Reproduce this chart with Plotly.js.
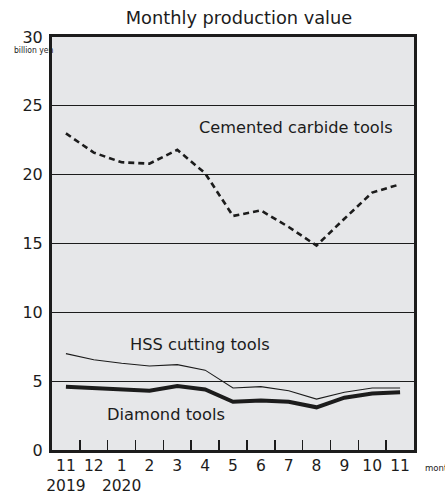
<!DOCTYPE html>
<html>
<head>
<meta charset="utf-8">
<script src="https://cdn.plot.ly/plotly-3.0.1.min.js"></script>
<style>html,body{margin:0;padding:0;background:#fff;}#chart{width:445px;height:495px;}</style>
</head>
<body>
<div id="chart"></div>
<script>
// Data (billion yen), Nov 2019 - Nov 2020
const months = ["11<br>2019", "12", "1<br>2020", "2", "3", "4", "5", "6", "7", "8", "9", "10", "11"];
const cementedCarbide = [23.0, 21.6, 20.9, 20.8, 21.8, 20.1, 17.0, 17.4, 16.2, 14.85, 16.8, 18.7, 19.3];
const hssCutting = [7.0, 6.55, 6.3, 6.1, 6.2, 5.8, 4.5, 4.6, 4.3, 3.7, 4.2, 4.5, 4.5];
const diamondTools = [4.6, 4.5, 4.4, 4.3, 4.65, 4.4, 3.5, 3.6, 3.5, 3.1, 3.8, 4.1, 4.2];
const seriesLabels = ["Cemented carbide tools", "HSS cutting tools", "Diamond tools"];
const yTicks = [0, 5, 10, 15, 20, 25, 30];

const idx = months.map((m, i) => i);
const ink = "#1c1c1c";
const font = "DejaVu Sans, Liberation Sans, Arial, sans-serif";
const narrow = "Liberation Sans Narrow, DejaVu Sans Condensed, sans-serif";

const traces = [
  {x: idx, y: cementedCarbide, mode: "lines", line: {color: ink, width: 2.6, dash: "6px,4px"}, hoverinfo: "skip"},
  {x: idx, y: hssCutting, mode: "lines", line: {color: ink, width: 1.1}, hoverinfo: "skip"},
  {x: idx, y: diamondTools, mode: "lines", line: {color: ink, width: 4}, hoverinfo: "skip"},
  // dummy trace for month labels on second axis
  {x: idx, y: idx.map(() => null), xaxis: "x2", mode: "lines", hoverinfo: "skip", showlegend: false}
];

const pw = 445 - 52 - 31, ph = 495 - 37 - 45;

const layout = {
  width: 445, height: 495,
  margin: {l: 52, r: 31, t: 37, b: 45},
  paper_bgcolor: "#ffffff",
  plot_bgcolor: "#e6e7e9",
  showlegend: false,
  title: {text: "Monthly production value", font: {family: font, size: 17.8, color: ink}, x: 239 / 445, xanchor: "center", y: 1 - 18 / 495, yanchor: "middle"},
  xaxis: {
    range: [-0.5, 12.5], showgrid: false, zeroline: false,
    tickmode: "array", tickvals: idx.slice(0, 12).map(i => i + 0.5), ticktext: idx.slice(0, 12).map(() => ""),
    ticks: "inside", ticklen: 10, tickwidth: 1.5, tickcolor: ink,
    showline: true, linecolor: ink, linewidth: 3, mirror: true, fixedrange: true
  },
  xaxis2: {
    overlaying: "x", range: [-0.5, 12.5], showgrid: false, zeroline: false, showline: false,
    tickmode: "array", tickvals: idx, ticktext: months, ticks: "", tickangle: 0,
    tickfont: {family: font, size: 15.5, color: ink}, side: "bottom", fixedrange: true, ticklabelstandoff: 4
  },
  yaxis: {
    range: [0, 30], tickmode: "array", tickvals: yTicks, ticktext: yTicks.map(String),
    showgrid: true, gridcolor: ink, gridwidth: 1.3, zeroline: false,
    showline: true, linecolor: ink, linewidth: 3, mirror: true, ticks: "",
    tickfont: {family: font, size: 16, color: ink}, ticklabelstandoff: 3, fixedrange: true
  },
  annotations: [
    {text: seriesLabels[0], x: 8.25, y: 23.4, xref: "x", yref: "y", showarrow: false, font: {family: font, size: 16.2, color: ink}},
    {text: seriesLabels[1], x: 4.8, y: 7.65, xref: "x", yref: "y", showarrow: false, font: {family: font, size: 16.3, color: ink}},
    {text: seriesLabels[2], x: 3.6, y: 2.6, xref: "x", yref: "y", showarrow: false, font: {family: font, size: 16.3, color: ink}},
    {text: "billion yen", x: (12 - 52) / pw, y: (495 - 45 - 50) / ph, xref: "paper", yref: "paper", xanchor: "left", yanchor: "middle", showarrow: false, font: {family: narrow, size: 8.5, color: ink}},
    {text: "month", x: (423 - 52) / pw, y: (495 - 45 - 467) / ph, xref: "paper", yref: "paper", xanchor: "left", yanchor: "middle", showarrow: false, font: {family: narrow, size: 9.5, color: ink}}
  ]
};

Plotly.newPlot("chart", traces, layout, {displayModeBar: false, staticPlot: true});
</script>
</body>
</html>
